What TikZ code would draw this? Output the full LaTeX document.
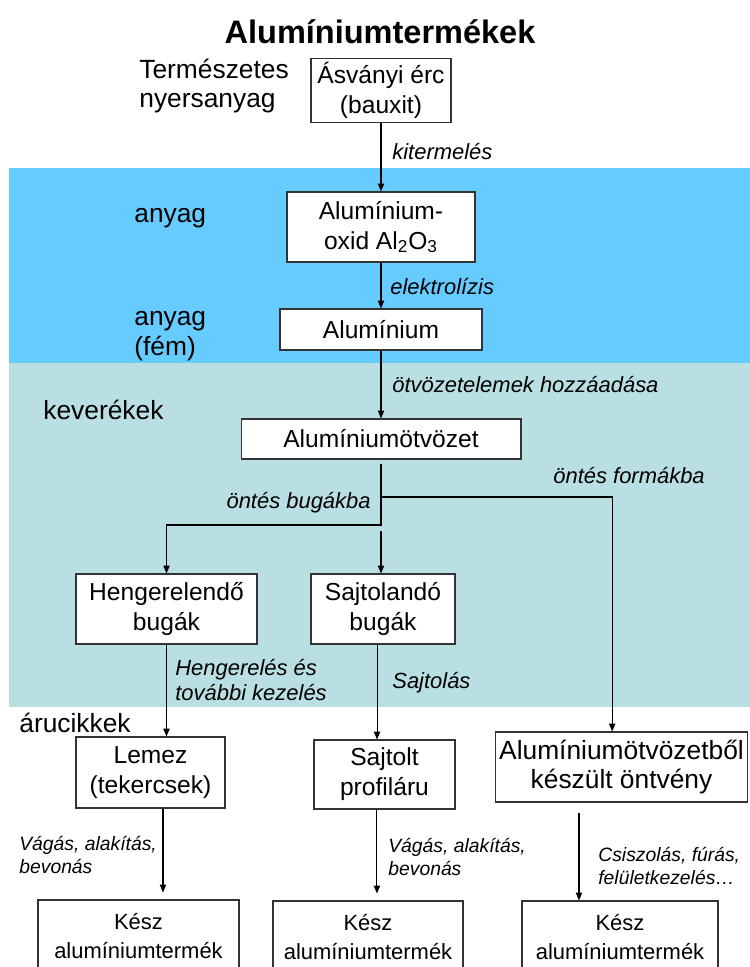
\documentclass[tikz,border=0pt]{standalone}
\usepackage{fontspec}
\setmainfont{Liberation Sans}
\usetikzlibrary{arrows.meta}

\begin{document}
\begin{tikzpicture}[x=0.02cm, y=-0.02cm,
    box/.style={draw=black!80, fill=white, line width=0.6pt, align=center, inner sep=2pt, font=\fontsize{14}{17}\selectfont},
    level/.style={anchor=west, align=left, inner sep=0pt, font=\fontsize{15}{17}\selectfont},
    proc/.style={anchor=west, align=left, inner sep=0pt, font=\fontsize{12.5}{14.5}\selectfont\itshape},
    proclow/.style={proc, font=\fontsize{11}{13.5}\selectfont\itshape},
    arr/.style={-{Triangle[length=4.5pt,width=3.6pt]}, line width=0.6pt}]
    % Define colours
    \definecolor{materialBand}{HTML}{66CCFF}
    \definecolor{mixtureBand}{HTML}{B9DFE3}

    % Page frame
    \useasboundingbox (0,0) rectangle (750,967);
    \clip (0,0) rectangle (750,967);

    % Background bands
    \fill[materialBand] (9,168) rectangle (750,363);
    \fill[mixtureBand] (9,363) rectangle (750,707);

    % Title
    \node[font=\fontsize{18.5}{22}\selectfont\bfseries] (title) at (380,32) {Alumíniumtermékek};

    % Level labels on the left
    \node[level] (natural) at (139,86) {Természetes\\nyersanyag};
    \node[level] (matA) at (134,218) {anyag};
    \node[level] (matB) at (134,336) {anyag\\(fém)};
    \node[level] (mixture) at (43,410) {keverékek};
    \node[level] (goods) at (19,723) {árucikkek};

    % Process boxes
    \node[box, minimum width=2.8cm, minimum height=1.26cm] (erc) at (381,90.5) {Ásványi érc\\(bauxit)};
    \node[box, minimum width=3.76cm, minimum height=1.4cm] (oxid) at (381,227) {Alumínium-\\oxid Al\textsubscript{2}O\textsubscript{3}};
    \node[box, minimum width=4.04cm, minimum height=0.82cm] (alu) at (381,329.5) {Alumínium};
    \node[box, minimum width=5.6cm, minimum height=0.8cm] (otvozet) at (381,439) {Alumíniumötvözet};
    \node[box, minimum width=3.62cm, minimum height=1.4cm] (hengbug) at (166.5,609) {Hengerelendő\\bugák};
    \node[box, minimum width=2.88cm, minimum height=1.4cm] (sajtbug) at (383,609) {Sajtolandó\\bugák};
    \node[box, minimum width=2.98cm, minimum height=1.42cm] (lemez) at (150.5,772.5) {Lemez\\(tekercsek)};
    \node[box, minimum width=2.82cm, minimum height=1.38cm] (sajtolt) at (384.5,774.5) {Sajtolt\\profiláru};
    \node[box, minimum width=4.98cm, minimum height=1.4cm, font=\fontsize{15}{17}\selectfont] (ontveny) at (621.5,767) {Alumíniumötvözetből\\készült öntvény};
    \node[box, minimum width=4.02cm, minimum height=1.44cm, font=\fontsize{12.5}{16}\selectfont] (keszA) at (138.5,936) {Kész\\alumíniumtermék};
    \node[box, minimum width=3.8cm, minimum height=1.44cm, font=\fontsize{12.5}{16}\selectfont] (keszB) at (368,937) {Kész\\alumíniumtermék};
    \node[box, minimum width=3.92cm, minimum height=1.44cm, font=\fontsize{12.5}{16}\selectfont] (keszC) at (620,937) {Kész\\alumíniumtermék};

    % Process labels
    \node[proc] (kitermeles) at (392,152) {kitermelés};
    \node[proc] (elektrolizis) at (390,287) {elektrolízis};
    \node[proc] (hozzaadas) at (392,385) {ötvözetelemek hozzáadása};
    \node[proc] (formakba) at (553,476) {öntés formákba};
    \node[proc, anchor=east] (bugakba) at (371,503) {öntés bugákba};
    \node[proc] (hengereles) at (175,680) {Hengerelés és\\további kezelés};
    \node[proc] (sajtolas) at (392,683) {Sajtolás};
    \node[proclow] (vagasA) at (19,855) {Vágás, alakítás,\\bevonás};
    \node[proclow] (vagasB) at (388,857) {Vágás, alakítás,\\bevonás};
    \node[proclow] (csiszolas) at (598,866) {Csiszolás, fúrás,\\felületkezelés…};

    % Main chain
    \draw[arr] (erc) -- (oxid);
    \draw[arr] (oxid) -- (alu);
    \draw[arr] (alu) -- (otvozet);

    % Casting branches
    \coordinate (fork) at (381,497);
    \coordinate (split) at (381,525);
    \coordinate (pressIn) at (381,531);
    \draw[arr, shorten <=2.5pt] (otvozet.south) -- (split) -| (hengbug.north);
    \draw[arr] (fork) -| ([xshift=-5.3pt]ontveny.north);
    \draw[arr] (pressIn) -- (pressIn |- sajtbug.north);

    % Forming steps
    \draw[arr] (hengbug.south) -- (hengbug.south |- lemez.north);
    \draw[arr] ([xshift=-3.4pt]sajtbug.south) -- ([xshift=-3.4pt]sajtbug.south |- sajtolt.north);

    % Finishing steps
    \draw[arr, shorten >=4pt] ([xshift=7.1pt]lemez.south) -- ([xshift=7.1pt]lemez.south |- keszA.north);
    \draw[arr, shorten >=4pt] ([xshift=-4.3pt]sajtolt.south) -- ([xshift=-4.3pt]sajtolt.south |- keszB.north);
    \draw[arr, shorten <=5.7pt] ([xshift=-24.2pt]ontveny.south) -- ([xshift=-24.2pt]ontveny.south |- keszC.north);

\end{tikzpicture}
\end{document}
